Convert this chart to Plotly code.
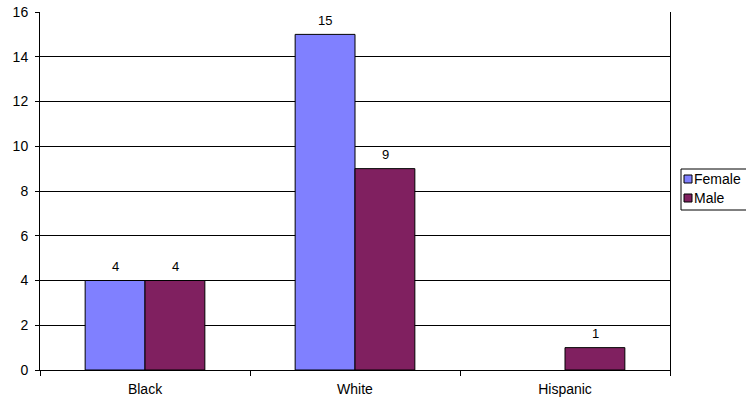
import plotly.graph_objects as go

categories = ["Black", "White", "Hispanic"]
female = [4, 15, None]
male = [4, 9, 1]
series_names = ["Female", "Male"]
series_colors = ["#8080FF", "#802060"]

font = "Liberation Sans, Arial, sans-serif"

fig = go.Figure()
for name, vals, color in [
    (series_names[0], female, series_colors[0]),
    (series_names[1], male, series_colors[1]),
]:
    fig.add_trace(go.Bar(
        name=name, x=categories, y=vals,
        marker=dict(color=color, line=dict(color="black", width=1)),
    ))

# value labels above each bar (placed at the data value, shifted to the bar in the group)
for vals, dx in [(female, -30), (male, 30)]:
    for cat, v in zip(categories, vals):
        if v is None:
            continue
        fig.add_annotation(x=cat, y=v, xref="x", yref="y", text=str(v),
                           showarrow=False, xshift=dx, yshift=14,
                           yanchor="middle", xanchor="center",
                           font=dict(size=13, family=font, color="black"))

fig.update_layout(
    width=746, height=400,
    margin=dict(l=40, r=76, t=12, b=30, autoexpand=False),
    paper_bgcolor="white", plot_bgcolor="white",
    barmode="group", bargap=0.43, bargroupgap=0,
    font=dict(family=font, size=14, color="black"),
    showlegend=False,
)

# manual legend; screen pixel -> paper coords (plot area: x 40..670, y 12..370)
def px(x):
    return (x - 40) / 630
def py(y):
    return (370 - y) / 358

fig.add_shape(type="rect", xref="paper", yref="paper",
              x0=px(681), x1=px(780), y0=py(210), y1=py(169),
              line=dict(color="black", width=1), fillcolor="white", layer="above")
for i, (name, color) in enumerate(zip(series_names, series_colors)):
    yc = 179 + i * 19
    fig.add_shape(type="rect", xref="paper", yref="paper",
                  x0=px(684), x1=px(692), y0=py(yc + 4), y1=py(yc - 4),
                  line=dict(color="black", width=1), fillcolor=color, layer="above")
    fig.add_annotation(xref="paper", yref="paper", x=px(692), y=py(yc),
                       xanchor="left", yanchor="middle", text=name, showarrow=False,
                       font=dict(size=14, family=font, color="black"))

fig.update_xaxes(
    type="category", showline=True, linecolor="black", linewidth=1,
    ticks="outside", tickson="boundaries", ticklen=5, tickcolor="black",
    showgrid=False, tickfont=dict(size=14), ticklabelstandoff=6,
)
fig.update_yaxes(
    range=[0, 16], dtick=2, showline=True, linecolor="black", linewidth=1,
    mirror=True, ticks="outside", ticklen=4, tickcolor="black",
    showgrid=True, gridcolor="black", gridwidth=1, zeroline=False,
    tickfont=dict(size=14), ticklabelstandoff=4,
)

fig.write_html("out.html", config={"displayModeBar": False},
               post_script="document.body.style.margin='0';")
